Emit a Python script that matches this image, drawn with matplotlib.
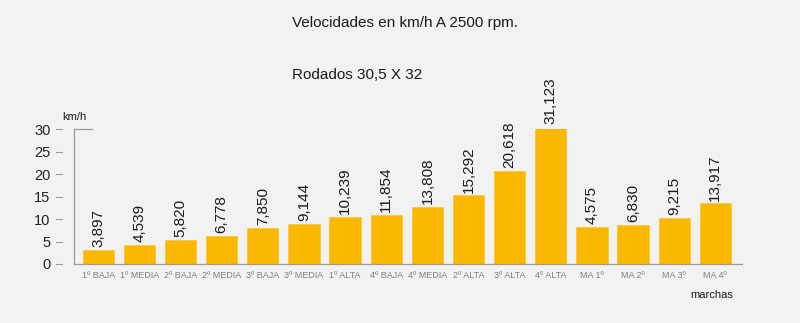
import matplotlib
matplotlib.use("Agg")
import matplotlib.pyplot as plt
import matplotlib.transforms as mtransforms

categories = ["1º BAJA", "1º MEDIA", "2º BAJA", "2º MEDIA", "3º BAJA", "3º MEDIA",
              "1º ALTA", "4º BAJA", "4º MEDIA", "2º ALTA", "3º ALTA", "4º ALTA",
              "MA 1º", "MA 2º", "MA 3º", "MA 4º"]
bar_heights = [3.2, 4.2, 5.4, 6.2, 8.1, 9.0, 10.5, 11.0, 12.7, 15.3, 20.7, 30.5,
               8.3, 8.7, 10.3, 13.5]
value_labels = ["3,897", "4,539", "5,820", "6,778", "7,850", "9,144", "10,239", "11,854",
                "13,808", "15,292", "20,618", "31,123", "4,575", "6,830", "9,215", "13,917"]
yticks = [0, 5, 10, 15, 20, 25, 30]

plt.rcParams['font.family'] = ['Liberation Sans', 'DejaVu Sans']
bg = "#F2F2F2"
fig = plt.figure(figsize=(8, 3.23), dpi=100, facecolor=bg)
ax = fig.add_axes([0.0925, 0.1827, 0.8346, 0.417])
ax.set_facecolor(bg)

x = list(range(len(categories)))
bars = ax.bar(x, bar_heights, width=0.76, color="#FBB800", edgecolor="#FCC633", linewidth=0.6)
for xi, h, lab in zip(x, bar_heights, value_labels):
    ax.annotate(lab, (xi, h), xytext=(0, 2), textcoords="offset points",
                rotation=90, ha="center", va="bottom", fontsize=11, color="#1a1a1a",
                annotation_clip=False)

ax.set_xlim(-0.59, 15.64)
ax.set_ylim(0, 30)
ax.set_xticks(x)
ax.set_xticklabels(categories, fontsize=6.5, color="#808080")
ax.tick_params(axis="x", length=0, pad=5)
ax.set_yticks(yticks)
ax.set_yticklabels([str(t) for t in yticks], fontsize=10.5, color="#222222")
ax.tick_params(axis="y", length=0, pad=17)

for s in ["top", "right"]:
    ax.spines[s].set_visible(False)
for s in ["left", "bottom"]:
    ax.spines[s].set_color("#9a9a9a")
    ax.spines[s].set_linewidth(0.9)

# detached tick marks
trans = mtransforms.blended_transform_factory(ax.transAxes, ax.transData)
for t in yticks:
    ax.plot([-0.027, -0.018], [t, t], transform=trans, color="#9a9a9a", lw=0.8, clip_on=False)
# short cap line at top of axis
ax.plot([0, 0.027], [30, 30], transform=trans, color="#9a9a9a", lw=0.9, clip_on=False)

fig.text(0.0775, 0.638, "km/h", fontsize=8, color="#1a1a1a", ha="left", va="center")
fig.text(0.8625, 0.087, "marchas", fontsize=8, color="#1a1a1a", ha="left", va="center")
fig.text(0.3646, 0.929, "Velocidades en km/h A 2500 rpm.", fontsize=11, color="#1a1a1a",
         ha="left", va="center")
fig.text(0.3646, 0.768, "Rodados 30,5 X 32", fontsize=11, color="#1a1a1a",
         ha="left", va="center")

fig.savefig("out.png", dpi=100, facecolor=bg)
